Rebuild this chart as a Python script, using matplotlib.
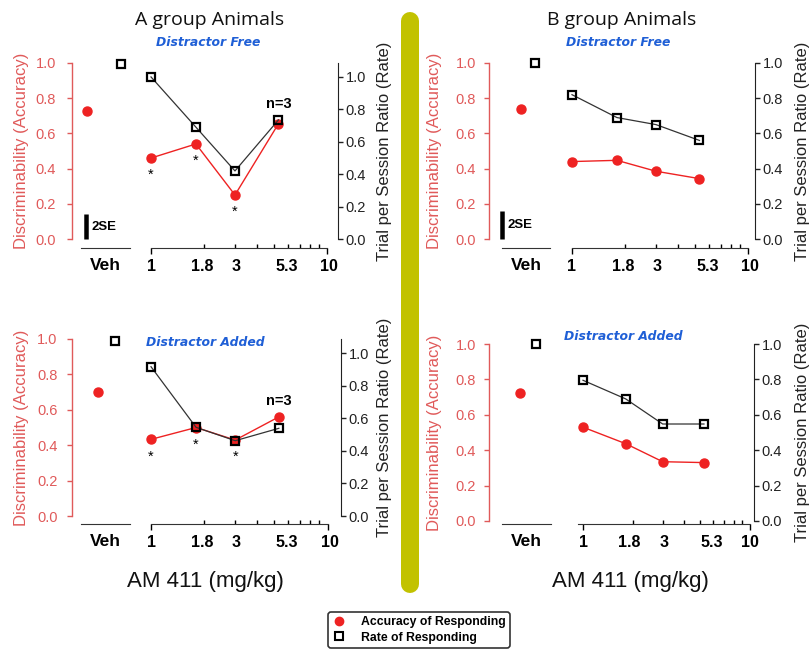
import matplotlib
matplotlib.use('Agg')
import matplotlib.pyplot as plt
from matplotlib.lines import Line2D
from matplotlib.ticker import NullLocator, FixedLocator

W, H = 812, 650

# ---------------- data ----------------
doses = [1, 1.8, 3, 5.3]
dose_tick_labels = ['1', '1.8', '3', '5.3', '10']
veh_label = 'Veh'

# A group, Distractor Free
a_free_veh_acc = 0.73
a_free_veh_rate = 1.08
a_free_acc = [0.46, 0.54, 0.25, 0.655]
a_free_rate = [1.0, 0.69, 0.42, 0.735]
a_free_sig = [True, True, True, False]

# B group, Distractor Free
b_free_veh_acc = 0.74
b_free_veh_rate = 1.0
b_free_acc = [0.44, 0.447, 0.385, 0.343]
b_free_rate = [0.82, 0.69, 0.65, 0.56]
b_free_sig = [False, False, False, False]

# A group, Distractor Added
a_add_veh_acc = 0.70
a_add_veh_rate = 1.074
a_add_acc = [0.433, 0.50, 0.429, 0.56]
a_add_rate = [0.916, 0.544, 0.462, 0.538]
a_add_sig = [True, True, True, False]

# B group, Distractor Added
b_add_veh_acc = 0.725
b_add_veh_rate = 1.0
b_add_acc = [0.53, 0.437, 0.335, 0.33]
b_add_rate = [0.795, 0.69, 0.548, 0.548]
b_add_sig = [False, False, False, False]

a_two_se = 0.14
b_two_se = 0.16

# ---------------- style ----------------
RED = '#ee2222'
RED_AX = '#e05a5a'
BLUE = '#1f5fd6'
OLIVE = '#c2c200'
SANS = ['Liberation Sans', 'DejaVu Sans']
TFONT = ['Open Sans', 'DejaVu Sans']
SUBFONT = ['DejaVu Sans']

fig = plt.figure(figsize=(W / 100, H / 100), dpi=100)
fig.patch.set_facecolor('white')


def PT(px):
    return px * 0.72


def panel(geo, veh_acc, veh_rate, acc, rate, sig, two_se, n_on, subtitle, sub_xy):
    L, R, yt, yb, S = geo['L'], geo['R'], geo['yt'], geo['yb'], geo['S']
    d1, d10 = geo['d1'], geo['d10']
    bottom = 1 - yb / H
    h = (yb - yt) / H
    off_px = geo['ay'] - yb
    rtop = geo['rtop']

    # ---- Veh part ----
    axV = fig.add_axes([L / W, bottom, (S - L) / W, h])
    axV.set_xlim(0, 1)
    axV.set_ylim(0, 1)
    axV.patch.set_alpha(0)
    for s in ['top', 'right']:
        axV.spines[s].set_visible(False)
    axV.spines['left'].set_color(RED_AX)
    axV.spines['left'].set_linewidth(1.0)
    axV.spines['bottom'].set_position(('outward', PT(off_px)))
    fx = lambda x: (x - L) / (S - L)
    axV.spines['bottom'].set_bounds(fx(geo['v0']), fx(geo['v1']))
    axV.spines['bottom'].set_color('#333333')
    axV.set_yticks([0, 0.2, 0.4, 0.6, 0.8, 1.0])
    axV.set_yticklabels(['%.1f' % v for v in [0, 0.2, 0.4, 0.6, 0.8, 1.0]])
    axV.tick_params(axis='y', colors=RED_AX, labelcolor=RED_AX, length=3.5,
                    width=1, labelsize=10.5, pad=PT(geo['lpad']))
    for t in axV.get_yticklabels():
        t.set_family(SANS)
    axV.set_xticks([fx((geo['v0'] + geo['v1']) / 2)])
    axV.set_xticklabels([veh_label], fontweight='bold', fontsize=12.5, family=SANS)
    axV.tick_params(axis='x', length=0, pad=PT(10))
    axV.plot([fx(geo['vacc'])], [veh_acc], 'o', color=RED, ms=6.5, mec=RED, zorder=3,
             clip_on=False)
    # 2SE bar
    if geo.get('se') is not None:
        axV.plot([fx(geo['se'])] * 2, [0, two_se], color='black', lw=PT(4.5),
                 solid_capstyle='butt', clip_on=False)
        axV.text(fx(geo['se'] + 6), two_se / 2, '2SE', fontsize=9.5, fontweight='bold',
                 family=SANS, va='center', ha='left')
    axVr = axV.twinx()
    axVr.set_ylim(0, rtop)
    for s in axVr.spines.values():
        s.set_visible(False)
    axVr.set_yticks([])
    axVr.plot([fx(geo['vrate'])], [veh_rate], 's', mfc='none', mec='black', ms=6.3,
              mew=1.6, clip_on=False, zorder=4)

    # ---- dose part ----
    axD = fig.add_axes([S / W, bottom, (R - S) / W, h])
    axD.set_xscale('log')
    span = d10 - d1
    axD.set_xlim(10 ** ((S - d1) / span), 10 ** ((R - d1) / span))
    axD.set_ylim(0, 1)
    axD.patch.set_alpha(0)
    for s in ['top', 'right', 'left']:
        axD.spines[s].set_visible(False)
    axD.spines['bottom'].set_position(('outward', PT(off_px)))
    axD.spines['bottom'].set_bounds(geo.get('b0', 1), 10)
    axD.spines['bottom'].set_color('#333333')
    axD.set_yticks([])
    axD.xaxis.set_major_locator(FixedLocator([1, 10]))
    axD.xaxis.set_minor_locator(FixedLocator([2, 3, 4, 5, 6, 7, 8, 9]))
    axD.tick_params(axis='x', which='major', direction='out', length=4.5, width=1,
                    labelbottom=False)
    axD.tick_params(axis='x', which='minor', direction='in', length=3, width=1,
                    labelbottom=False)
    sec = axD.secondary_xaxis(-off_px / (yb - yt))
    sec.spines['bottom'].set_visible(False)
    sec.set_xticks(geo['lab_pos'])
    sec.set_xticklabels(dose_tick_labels, fontweight='bold', fontsize=11.5, family=SANS)
    sec.xaxis.set_minor_locator(NullLocator())
    sec.tick_params(axis='x', which='both', length=0, pad=PT(11))

    axD.plot(doses, acc, '-', color=RED, lw=1.0, zorder=2)
    axD.plot(doses, acc, 'o', color=RED, ms=6.5, mec=RED, zorder=3)
    for d, a, s in zip(doses, acc, sig):
        if s:
            axD.annotate('*', (d, a), xytext=(0, -PT(17)), textcoords='offset points',
                         ha='center', va='center', fontsize=10.5, family=SANS)

    axDr = axD.twinx()
    axDr.set_ylim(0, rtop)
    for s in ['top', 'left', 'bottom']:
        axDr.spines[s].set_visible(False)
    axDr.spines['right'].set_color('#222222')
    axDr.set_yticks([0, 0.2, 0.4, 0.6, 0.8, 1.0])
    axDr.set_yticklabels(['%.1f' % v for v in [0, 0.2, 0.4, 0.6, 0.8, 1.0]])
    axDr.tick_params(axis='y', length=3.5, width=1, labelsize=10.5, pad=2,
                     colors='#222222')
    for t in axDr.get_yticklabels():
        t.set_family(SANS)
    axDr.plot(doses, rate, '-', color='#333333', lw=0.9, zorder=2)
    axDr.plot(doses, rate, 's', mfc='none', mec='black', ms=6.3, mew=1.6, zorder=4)

    if n_on == 'rate':
        axDr.annotate('n=3', (doses[-1], rate[-1]), xytext=(0, PT(16)),
                      textcoords='offset points', ha='center', va='center',
                      fontsize=10.5, fontweight='bold', family=SANS)
    elif n_on == 'acc':
        axD.annotate('n=3', (doses[-1], acc[-1]), xytext=(0, PT(16)),
                     textcoords='offset points', ha='center', va='center',
                     fontsize=10.5, fontweight='bold', family=SANS)

    # axis titles
    yc = 1 - (yt + yb) / 2 / H
    fig.text(geo['llx'] / W, yc, 'Discriminability (Accuracy)', rotation=90,
             color=RED_AX, fontsize=12, family=SANS, ha='center', va='center')
    fig.text(geo['rlx'] / W, yc, 'Trial per Session Ratio (Rate)', rotation=90,
             color='#222222', fontsize=12, family=SANS, ha='center', va='center')
    fig.text(sub_xy[0] / W, 1 - sub_xy[1] / H, subtitle, color=BLUE, fontsize=8.9,
             fontweight='bold', fontstyle='italic', family=SUBFONT,
             ha='center', va='center')


geoA_top = dict(L=72, R=338, yt=63, yb=239, S=140, ay=248, d1=151, d10=327,
                v0=81, v1=130, vacc=87, vrate=121, rtop=1.086, se=86, lpad=11,
                lab_pos=[1, 1.95, 3.05, 5.9, 10.3], llx=22, rlx=385)
geoB_top = dict(L=489, R=755, yt=63, yb=239, S=560, ay=248, d1=572, d10=748,
                v0=502, v1=550, vacc=521, vrate=535, rtop=1.0, se=502, lpad=8,
                lab_pos=[1, 1.95, 3.05, 5.9, 10.3], llx=435, rlx=803)
geoA_bot = dict(L=72.5, R=341, yt=339, yb=516, S=140, ay=524, d1=151, d10=327.5,
                v0=81, v1=130, vacc=98, vrate=115, rtop=1.086, se=None, lpad=10,
                lab_pos=[1, 1.95, 3.05, 5.9, 10.3], llx=22, rlx=385)
geoB_bot = dict(L=489, R=754, yt=344, yb=521, S=560, ay=524, d1=583, d10=750,
                v0=502, v1=551, vacc=520, vrate=536, rtop=1.0, se=None, b0=0.93, lpad=8,
                lab_pos=[1, 1.9, 3.05, 5.9, 10], llx=435, rlx=803)

panel(geoA_top, a_free_veh_acc, a_free_veh_rate, a_free_acc, a_free_rate, a_free_sig,
      a_two_se, 'rate', 'Distractor Free', (208, 42))
panel(geoB_top, b_free_veh_acc, b_free_veh_rate, b_free_acc, b_free_rate, b_free_sig,
      b_two_se, None, 'Distractor Free', (618, 42))
panel(geoA_bot, a_add_veh_acc, a_add_veh_rate, a_add_acc, a_add_rate, a_add_sig,
      a_two_se, 'acc', 'Distractor Added', (205, 343))
panel(geoB_bot, b_add_veh_acc, b_add_veh_rate, b_add_acc, b_add_rate, b_add_sig,
      b_two_se, None, 'Distractor Added', (623, 336))

# group titles
fig.text(210 / W, 1 - 20 / H, 'A group Animals', fontsize=14, family=TFONT,
         ha='center', va='center', color='#111111')
fig.text(622 / W, 1 - 20 / H, 'B group Animals', fontsize=14, family=TFONT,
         ha='center', va='center', color='#111111')
# x labels
fig.text(205 / W, 1 - 582 / H, 'AM 411 (mg/kg)', fontsize=16, family=SANS,
         ha='center', va='center', color='#111111')
fig.text(630 / W, 1 - 582 / H, 'AM 411 (mg/kg)', fontsize=16, family=SANS,
         ha='center', va='center', color='#111111')

# olive divider bar
fig.add_artist(Line2D([410.5 / W, 410.5 / W], [1 - 21 / H, 1 - 584 / H],
                      color=OLIVE, lw=PT(18), solid_capstyle='round'))

# legend
handles = [Line2D([], [], marker='o', ls='none', color=RED, ms=6),
           Line2D([], [], marker='s', ls='none', mfc='none', mec='black', ms=6, mew=1.5)]
leg = fig.legend(handles, ['Accuracy of Responding', 'Rate of Responding'],
                 loc='center', bbox_to_anchor=(419 / W, 1 - 630 / H),
                 prop=dict(family=SANS, weight='bold', size=8.8),
                 frameon=True, fancybox=True, edgecolor='black', handletextpad=1.3,
                 handlelength=1.0, labelspacing=0.25, borderpad=0.35)
leg.get_frame().set_linewidth(1.2)

fig.savefig('out.png', dpi=100, facecolor='white')
